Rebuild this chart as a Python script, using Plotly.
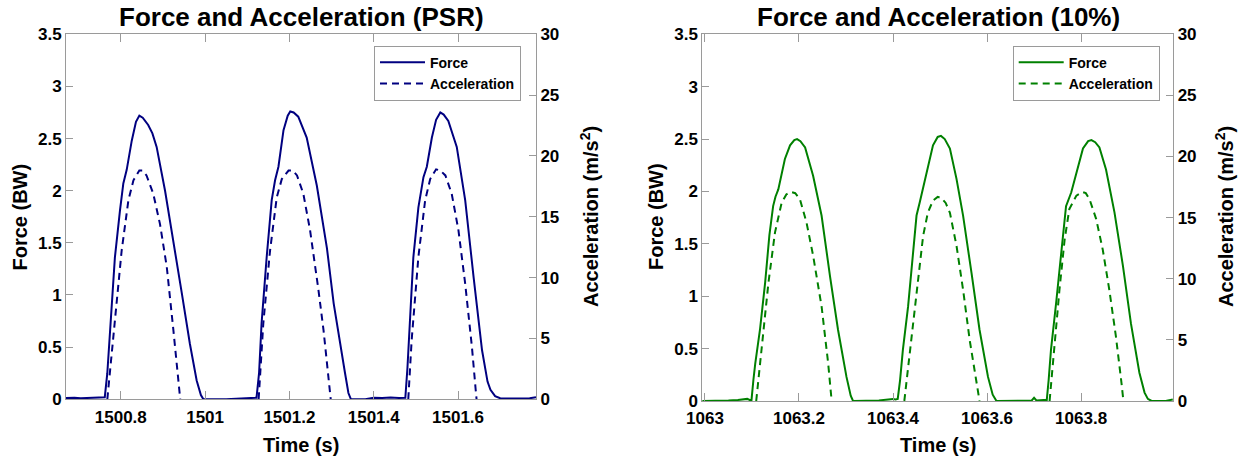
import plotly.graph_objects as go

# ---------------- data ----------------
# PSR panel
psr_force_t = [1500.670, 1500.690, 1500.705, 1500.720, 1500.735, 1500.750, 1500.762,
               1500.768, 1500.774, 1500.786, 1500.798, 1500.806, 1500.814, 1500.826, 1500.836,
               1500.844, 1500.852, 1500.865, 1500.875, 1500.885, 1500.905, 1500.925, 1500.945,
               1500.964, 1500.980, 1500.990, 1500.996,
               1501.050, 1501.090, 1501.100, 1501.115, 1501.122,
               1501.128, 1501.134, 1501.146, 1501.158, 1501.166, 1501.174, 1501.186, 1501.196,
               1501.202, 1501.210, 1501.221, 1501.241, 1501.265, 1501.289, 1501.305, 1501.320,
               1501.332, 1501.340, 1501.346,
               1501.380, 1501.390, 1501.400, 1501.420, 1501.440, 1501.460, 1501.475,
               1501.480, 1501.486, 1501.494, 1501.506, 1501.518, 1501.526, 1501.538, 1501.548,
               1501.558, 1501.566, 1501.577, 1501.597, 1501.617, 1501.637, 1501.657, 1501.670,
               1501.677, 1501.688, 1501.700, 1501.720, 1501.750, 1501.770, 1501.785]
psr_force = [0.012, 0.015, 0.010, 0.014, 0.012, 0.015, 0.020,
             0.25, 0.66, 1.36, 1.81, 2.07, 2.20, 2.48, 2.66,
             2.72, 2.70, 2.63, 2.55, 2.42, 2.00, 1.52, 1.01,
             0.53, 0.18, 0.04, 0.0,
             0.0, 0.005, 0.010, 0.012, 0.015,
             0.25, 0.73, 1.36, 1.91, 2.10, 2.23, 2.58, 2.72,
             2.76, 2.75, 2.71, 2.51, 2.05, 1.45, 0.92, 0.53,
             0.25, 0.06, 0.0,
             0.0, 0.010, 0.015, 0.012, 0.018, 0.012, 0.015,
             0.30, 0.73, 1.36, 1.84, 2.13, 2.23, 2.51, 2.68,
             2.75, 2.73, 2.67, 2.42, 1.91, 1.17, 0.47, 0.17,
             0.09, 0.03, 0.010, 0.008, 0.005, 0.010, 0.020]

psr_acc_t = [1500.768, 1500.776, 1500.786, 1500.802, 1500.818, 1500.830, 1500.844, 1500.852,
             1500.861, 1500.877, 1500.893, 1500.909, 1500.925, 1500.939, 1500.941, None,
             1501.127, 1501.132, 1501.138, 1501.154, 1501.170, 1501.182, 1501.198, 1501.208,
             1501.218, 1501.233, 1501.249, 1501.269, 1501.281, 1501.295, 1501.298, None,
             1501.482, 1501.490, 1501.506, 1501.522, 1501.534, 1501.548, 1501.558, 1501.570,
             1501.585, 1501.601, 1501.617, 1501.633, 1501.642, 1501.644]
psr_acc = [0.0, 3.0, 6.2, 12.2, 16.35, 18.0, 18.8, 18.8,
           18.4, 16.9, 14.4, 10.9, 5.6, 0.6, 0.0, None,
           0.0, 3.0, 6.2, 12.2, 16.6, 18.1, 18.8, 18.8,
           18.4, 16.9, 13.9, 8.96, 5.67, 1.0, 0.0, None,
           0.0, 4.85, 11.7, 16.35, 18.1, 18.9, 18.8, 18.4,
           16.9, 13.9, 9.5, 4.3, 0.74, 0.0]

# 10% panel
ten_force_t = [1062.994, 1063.030, 1063.050, 1063.070, 1063.085, 1063.090, 1063.095, 1063.099,
               1063.103, 1063.107, 1063.117, 1063.128, 1063.137, 1063.145, 1063.150, 1063.156,
               1063.170, 1063.181, 1063.190, 1063.196, 1063.203, 1063.213, 1063.230, 1063.248,
               1063.266, 1063.283, 1063.301, 1063.310, 1063.315,
               1063.350, 1063.370, 1063.390, 1063.400, 1063.405, 1063.410,
               1063.415, 1063.421, 1063.432, 1063.443, 1063.450, 1063.457, 1063.471, 1063.485,
               1063.495, 1063.502, 1063.510, 1063.521, 1063.535, 1063.549, 1063.567, 1063.584,
               1063.602, 1063.612, 1063.620,
               1063.650, 1063.680, 1063.695, 1063.700, 1063.705, 1063.720, 1063.727,
               1063.731, 1063.736, 1063.747, 1063.758, 1063.768, 1063.779, 1063.790, 1063.804,
               1063.815, 1063.822, 1063.830, 1063.839, 1063.853, 1063.871, 1063.889, 1063.906,
               1063.924, 1063.935, 1063.942, 1063.950, 1063.980, 1063.990, 1063.995]
ten_force = [0.0, 0.0, 0.005, 0.010, 0.015, 0.020, 0.010, 0.010,
             0.20, 0.36, 0.68, 1.13, 1.58, 1.86, 1.95, 2.02,
             2.31, 2.44, 2.49, 2.50, 2.48, 2.42, 2.15, 1.77,
             1.19, 0.68, 0.23, 0.05, 0.0,
             0.0, 0.005, 0.015, 0.020, 0.015, 0.020,
             0.20, 0.49, 0.90, 1.45, 1.77, 1.90, 2.18, 2.44,
             2.52, 2.53, 2.50, 2.41, 2.12, 1.77, 1.22, 0.68,
             0.23, 0.06, 0.0,
             0.0, 0.0, 0.005, 0.030, 0.005, 0.010, 0.010,
             0.20, 0.49, 0.94, 1.45, 1.86, 1.99, 2.18, 2.41,
             2.48, 2.49, 2.47, 2.42, 2.21, 1.80, 1.29, 0.74,
             0.27, 0.08, 0.02, 0.0, 0.0, 0.010, 0.015]

ten_acc_t = [1063.109, 1063.121, 1063.135, 1063.149, 1063.163, 1063.173, 1063.183, 1063.192,
             1063.202, 1063.216, 1063.230, 1063.248, 1063.262, 1063.269, 1063.270, None,
             1063.424, 1063.435, 1063.450, 1063.464, 1063.474, 1063.485, 1063.495, 1063.503,
             1063.512, 1063.521, 1063.535, 1063.549, 1063.563, 1063.577, 1063.584, None,
             1063.733, 1063.744, 1063.754, 1063.765, 1063.775, 1063.790, 1063.803, 1063.810,
             1063.818, 1063.832, 1063.846, 1063.860, 1063.874, 1063.886, 1063.890]
ten_acc = [0.0, 4.46, 9.67, 13.8, 16.2, 16.9, 17.1, 17.0,
           16.5, 14.6, 11.9, 7.75, 3.1, 0.2, 0.0, None,
           0.0, 3.64, 8.57, 13.5, 15.4, 16.4, 16.7, 16.6,
           16.2, 15.4, 12.7, 9.1, 5.0, 1.45, 0.0, None,
           0.0, 5.0, 9.1, 13.2, 15.7, 16.8, 17.1, 17.0,
           16.5, 14.9, 12.4, 9.1, 5.3, 1.45, 0.0]

psr_xticks = [1500.8, 1501.0, 1501.2, 1501.4, 1501.6]
psr_xlabels = ["1500.8", "1501", "1501.2", "1501.4", "1501.6"]
ten_xticks = [1063.0, 1063.2, 1063.4, 1063.6, 1063.8]
ten_xlabels = ["1063", "1063.2", "1063.4", "1063.6", "1063.8"]

titles = ["Force and Acceleration (PSR)", "Force and Acceleration (10%)"]

# ---------------- style ----------------
NAVY = "#000080"
GREEN = "#008000"
AXC = "#9a9a9a"
FONT = "Liberation Sans, Arial, sans-serif"

fig = go.Figure()
fig.add_trace(go.Scatter(x=psr_force_t, y=psr_force, mode="lines", name="Force",
                         line=dict(color=NAVY, width=2), xaxis="x", yaxis="y", legend="legend"))
fig.add_trace(go.Scatter(x=psr_acc_t, y=psr_acc, mode="lines", name="Acceleration",
                         line=dict(color=NAVY, width=2, dash="7px,5px"), xaxis="x", yaxis="y2",
                         legend="legend", connectgaps=False))
fig.add_trace(go.Scatter(x=ten_force_t, y=ten_force, mode="lines", name="Force",
                         line=dict(color=GREEN, width=2), xaxis="x2", yaxis="y3", legend="legend2"))
fig.add_trace(go.Scatter(x=ten_acc_t, y=ten_acc, mode="lines", name="Acceleration",
                         line=dict(color=GREEN, width=2, dash="7px,5px"), xaxis="x2", yaxis="y4",
                         legend="legend2", connectgaps=False))

tickfont = dict(family=FONT, size=17, color="black", weight="bold")


def xax(domain, rng, tv, tt, anchor):
    return dict(domain=domain, range=rng, tickvals=tv, ticktext=tt, ticks="inside", ticklen=8,
                tickcolor=AXC, showline=True, linecolor=AXC, linewidth=1, mirror="ticks",
                showgrid=False, zeroline=False, tickfont=tickfont, anchor=anchor,
                ticklabelstandoff=2, automargin=False)


def yax(domain, rng, dt, anchor, side="left", overlaying=None):
    d = dict(domain=domain, range=rng, dtick=dt, tick0=0, ticks="inside", ticklen=7,
             tickcolor=AXC, showline=True, linecolor=AXC, linewidth=1, showgrid=False,
             zeroline=False, tickfont=tickfont, anchor=anchor, side=side, automargin=False)
    if overlaying:
        d["overlaying"] = overlaying
    return d


yd_l = [0.1301, 0.9253]
yd_r = [0.1264, 0.9253]

legend_style = dict(xanchor="left", yanchor="top", bgcolor="white", bordercolor=AXC, borderwidth=1,
                    font=dict(family=FONT, size=14, color="black", weight="bold"),
                    tracegroupgap=0, itemwidth=45)

fig.update_layout(
    width=1241, height=459, autosize=False,
    margin=dict(l=0, r=0, t=0, b=0, pad=0, autoexpand=False),
    paper_bgcolor="white", plot_bgcolor="white", showlegend=True,
    xaxis=xax([0.05318, 0.43191], [1500.670, 1501.785], psr_xticks, psr_xlabels, "y"),
    yaxis=yax(yd_l, [0, 3.5], 0.5, "x"),
    yaxis2=yax(yd_l, [0, 30], 5, "x", side="right", overlaying="y"),
    xaxis2=xax([0.5659, 0.9454], [1062.9943, 1063.996], ten_xticks, ten_xlabels, "y3"),
    yaxis3=yax(yd_r, [0, 3.5], 0.5, "x2"),
    yaxis4=yax(yd_r, [0, 30], 5, "x2", side="right", overlaying="y3"),
    legend=dict(x=374 / 1241, y=1 - 45.7 / 459, **legend_style),
    legend2=dict(x=1012.7 / 1241, y=1 - 45.7 / 459, **legend_style),
)

ann_font_title = dict(family=FONT, size=26, color="black", weight="bold")
ann_font_axis = dict(family=FONT, size=20, color="black", weight="bold")
anns = [
    dict(text=titles[0], x=301 / 1241, y=1 - 17 / 459, font=ann_font_title),
    dict(text=titles[1], x=938 / 1241, y=1 - 17 / 459, font=ann_font_title),
    dict(text="Time (s)", x=301 / 1241, y=1 - 445 / 459, font=ann_font_axis),
    dict(text="Time (s)", x=938 / 1241, y=1 - 445 / 459, font=ann_font_axis),
    dict(text="Force (BW)", x=19.5 / 1241, y=1 - 217 / 459, textangle=-90, font=ann_font_axis),
    dict(text="Force (BW)", x=656 / 1241, y=1 - 217 / 459, textangle=-90, font=ann_font_axis),
    dict(text="Acceleration (m/s<sup>2</sup>)", x=589 / 1241, y=1 - 217 / 459, textangle=-90,
         font=ann_font_axis),
    dict(text="Acceleration (m/s<sup>2</sup>)", x=1224 / 1241, y=1 - 217 / 459, textangle=-90,
         font=ann_font_axis),
]
for a in anns:
    a.update(xref="paper", yref="paper", showarrow=False, xanchor="center", yanchor="middle")
fig.update_layout(annotations=anns)

fig.write_html("out.html",
               post_script="document.body.style.margin='0';document.body.style.overflow='hidden';")
